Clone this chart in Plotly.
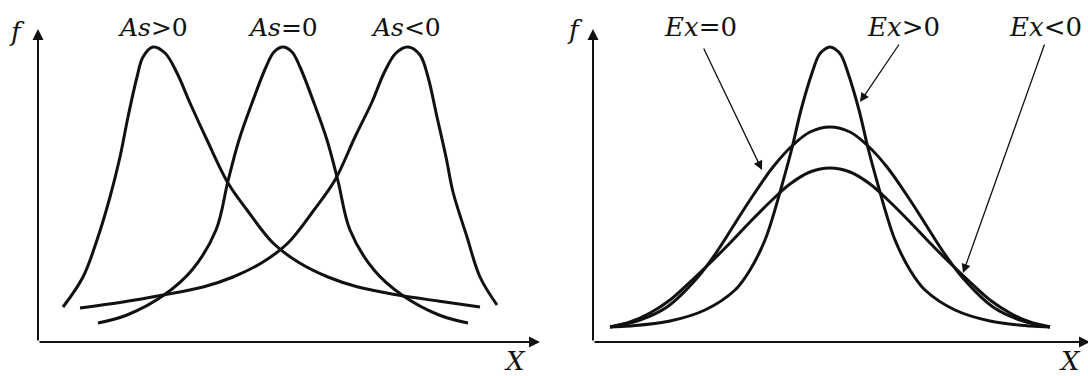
import plotly.graph_objects as go

# Skewness panel (As), x to the right, f up
as_pos_x = [25, 45, 60, 72, 82, 90, 99, 105, 115, 127, 139, 152, 169, 190, 209, 235, 260, 290, 320, 360, 400, 442]
as_pos_f = [35, 65, 105, 145, 185, 225, 265, 285, 295, 289, 269, 239, 202, 159, 132, 99, 80, 65, 55, 47, 41, 35]

as_zero_x = [60, 89, 126, 154, 178, 190, 201, 214, 228, 236, 245, 254, 262, 276, 289, 300, 312, 336, 364, 401, 430]
as_zero_f = [19, 27, 47, 72, 112, 161, 202, 239, 275, 290, 295, 290, 275, 239, 202, 161, 112, 72, 47, 27, 19]

as_neg_x = [42, 85, 125, 165, 195, 225, 250, 276, 297, 317, 334, 346, 358, 370, 382, 390, 399, 408, 415, 429, 442, 459]
as_neg_f = [34, 40, 47, 55, 65, 80, 99, 132, 162, 205, 240, 269, 289, 295, 287, 265, 225, 185, 150, 105, 65, 37]

# Kurtosis panel (Ex)
ex_pos_x = [17, 37, 77, 112, 142, 157, 172, 181, 189, 199, 208, 219, 226, 232, 237,
            242, 248, 255, 266, 275, 285, 293, 302, 317, 332, 362, 397, 437, 457]
ex_pos_f = [15, 16, 21, 32, 52, 72, 102, 129, 157, 194, 232, 269, 287, 293, 295,
            293, 287, 269, 232, 194, 157, 129, 102, 72, 52, 32, 21, 16, 15]

ex_zero_x = [17, 47, 74, 105, 125, 141, 157, 180, 200, 217, 237,
             257, 274, 294, 317, 333, 349, 369, 400, 427, 457]
ex_zero_f = [15, 22, 35, 65, 92, 117, 142, 175, 197, 210, 215,
             210, 197, 175, 142, 117, 92, 65, 35, 22, 15]

ex_neg_x = [17, 37, 57, 77, 97, 117, 137, 157, 177, 197, 217, 237,
            257, 277, 297, 317, 337, 357, 377, 397, 417, 437, 457]
ex_neg_f = [15, 20, 29, 42, 60, 79, 99, 120, 140, 158, 170, 174,
            170, 158, 140, 120, 99, 79, 60, 42, 29, 20, 15]

as_labels = ["<i>As</i>&gt;0", "<i>As</i>=0", "<i>As</i>&lt;0"]
as_label_x = [115, 245, 368]
ex_labels = ["<i>Ex</i>=0", "<i>Ex</i>&gt;0", "<i>Ex</i>&lt;0"]
ex_label_x = [107, 310, 452]
label_f = 315

FONT = "DejaVu Serif"
INK = "#111111"

fig = go.Figure()

def curve(x, y, xa, ya):
    fig.add_trace(go.Scatter(x=x, y=y, mode="lines", xaxis=xa, yaxis=ya,
                             line=dict(color=INK, width=3, shape="spline", smoothing=1.0),
                             hoverinfo="skip", showlegend=False))

curve(as_pos_x, as_pos_f, "x", "y")
curve(as_zero_x, as_zero_f, "x", "y")
curve(as_neg_x, as_neg_f, "x", "y")
curve(ex_pos_x, ex_pos_f, "x2", "y2")
curve(ex_zero_x, ex_zero_f, "x2", "y2")
curve(ex_neg_x, ex_neg_f, "x2", "y2")

annotations = []

# axis arrows for both panels
for xr, yr, xend in [("x", "y", 502), ("x2", "y2", 497)]:
    annotations.append(dict(x=0, y=313, ax=0, ay=0, xref=xr, yref=yr, axref=xr, ayref=yr,
                            text="", showarrow=True, arrowhead=2, arrowsize=1.1,
                            arrowwidth=2, arrowcolor=INK))
    annotations.append(dict(x=xend, y=0, ax=0, ay=0, xref=xr, yref=yr, axref=xr, ayref=yr,
                            text="", showarrow=True, arrowhead=2, arrowsize=1.1,
                            arrowwidth=2, arrowcolor=INK))

# axis letters
for xr, yr, fx, fy, xx, xy in [("x", "y", -21, 310, 477, -19), ("x2", "y2", -18, 312, 477, -19)]:
    annotations.append(dict(x=fx, y=fy, xref=xr, yref=yr, text="<i>f</i>", showarrow=False,
                            font=dict(family=FONT, size=26, color=INK)))
    annotations.append(dict(x=xx, y=xy, xref=xr, yref=yr, text="<i>X</i>", showarrow=False,
                            font=dict(family=FONT, size=26, color=INK)))

# series labels
for txt, lx in zip(as_labels, as_label_x):
    annotations.append(dict(x=lx, y=label_f, xref="x", yref="y", text=txt, showarrow=False,
                            font=dict(family=FONT, size=25, color=INK)))
for txt, lx in zip(ex_labels, ex_label_x):
    annotations.append(dict(x=lx, y=label_f, xref="x2", yref="y2", text=txt, showarrow=False,
                            font=dict(family=FONT, size=26, color=INK)))

# pointer arrows from the Ex labels to their curves
for tail, head in [((110, 295), (169, 172)), ((307, 299), (267, 240)), ((452, 299), (370, 69))]:
    annotations.append(dict(x=head[0], y=head[1], ax=tail[0], ay=tail[1],
                            xref="x2", yref="y2", axref="x2", ayref="y2",
                            text="", showarrow=True, arrowhead=2, arrowsize=1.4,
                            arrowwidth=1.3, arrowcolor=INK))

hidden = dict(visible=False, fixedrange=True)
fig.update_layout(
    width=1088, height=376,
    margin=dict(l=0, r=0, t=0, b=0),
    paper_bgcolor="white", plot_bgcolor="white",
    xaxis=dict(domain=[0, 0.5], range=[-38, 506], **hidden),
    yaxis=dict(domain=[0, 1], range=[-34, 342], **hidden),
    xaxis2=dict(domain=[0.5, 1], range=[-49, 495], **hidden),
    yaxis2=dict(domain=[0, 1], range=[-34, 342], anchor="x2", **hidden),
    annotations=annotations,
)

# page body has a default 8px margin, drop it so the figure sits at the corner
fig.write_html("out.html", config={"displayModeBar": False},
               post_script="document.body.style.margin='0px';")
